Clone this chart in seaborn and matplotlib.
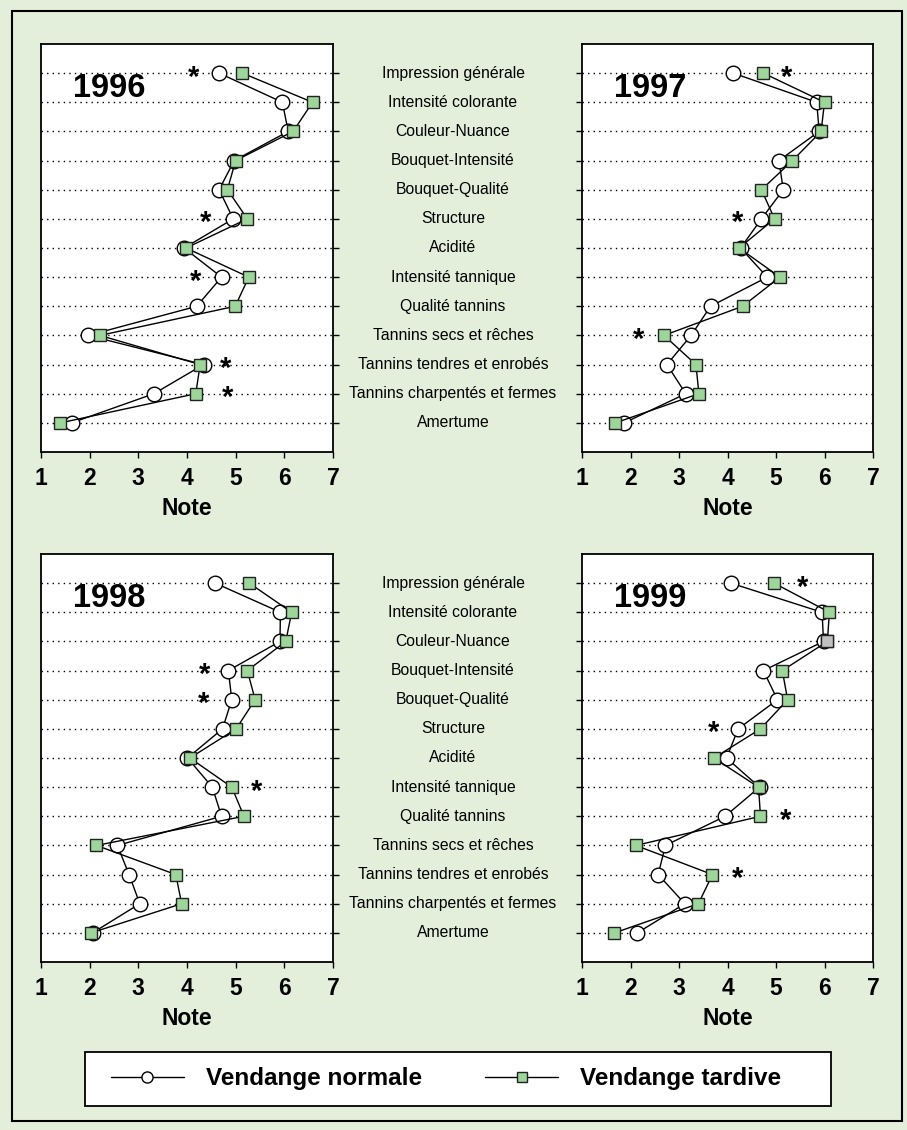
import numpy as np
import pandas as pd
import matplotlib
matplotlib.use('Agg')
import matplotlib.pyplot as plt
import matplotlib.transforms as mtransforms
from matplotlib.lines import Line2D
from matplotlib.patches import Rectangle
import seaborn as sns

## descriptors (top to bottom)
descripteurs = ['Impression générale', 'Intensité colorante', 'Couleur-Nuance',
                'Bouquet-Intensité', 'Bouquet-Qualité', 'Structure', 'Acidité',
                'Intensité tannique', 'Qualité tannins', 'Tannins secs et rêches',
                'Tannins tendres et enrobés', 'Tannins charpentés et fermes', 'Amertume']

annees = ['1996', '1997', '1998', '1999']

## mean scores
normale_1996 = [4.66, 5.96, 6.08, 4.97, 4.66, 4.95, 3.94, 4.71, 4.20, 1.97, 4.34, 3.32, 1.63]
tardive_1996 = [5.14, 6.58, 6.18, 5.00, 4.83, 5.24, 3.98, 5.27, 4.99, 2.21, 4.27, 4.18, 1.40]
normale_1997 = [4.12, 5.84, 5.89, 5.06, 5.15, 4.70, 4.27, 4.82, 3.65, 3.25, 2.75, 3.14, 1.87]
tardive_1997 = [4.74, 6.00, 5.93, 5.34, 4.70, 4.97, 4.24, 5.08, 4.31, 2.69, 3.35, 3.41, 1.69]
normale_1998 = [4.58, 5.92, 5.91, 4.85, 4.92, 4.73, 4.01, 4.52, 4.71, 2.57, 2.81, 3.03, 2.06]
tardive_1998 = [5.28, 6.15, 6.03, 5.24, 5.40, 5.01, 4.06, 4.92, 5.17, 2.14, 3.77, 3.89, 2.03]
normale_1999 = [4.07, 5.95, 5.98, 4.74, 5.03, 4.22, 3.98, 4.66, 3.95, 2.72, 2.57, 3.12, 2.14]
tardive_1999 = [4.96, 6.10, 6.06, 5.13, 5.24, 4.68, 3.72, 4.64, 4.68, 2.11, 3.69, 3.40, 1.67]

## significance stars: descriptor index and x position
etoiles_rang = {'1996': [0, 5, 7, 10, 11], '1997': [0, 5, 9],
                '1998': [3, 4, 7], '1999': [0, 5, 8, 10]}
etoiles_x = {'1996': [4.14, 4.39, 4.18, 4.80, 4.83], '1997': [5.22, 4.20, 2.16],
             '1998': [4.36, 4.33, 5.42], '1999': [5.55, 3.71, 5.19, 4.20]}

normale = {'1996': normale_1996, '1997': normale_1997, '1998': normale_1998, '1999': normale_1999}
tardive = {'1996': tardive_1996, '1997': tardive_1997, '1998': tardive_1998, '1999': tardive_1999}

## long table
rows = []
for an in annees:
    for i, d in enumerate(descripteurs):
        rows.append({'annee': an, 'rang': i, 'descripteur': d, 'vendange': 'Vendange normale', 'note': normale[an][i]})
    for i, d in enumerate(descripteurs):
        rows.append({'annee': an, 'rang': i, 'descripteur': d, 'vendange': 'Vendange tardive', 'note': tardive[an][i]})
df = pd.DataFrame(rows)

sns.set_style('white')
plt.rcParams['font.family'] = ['Liberation Sans', 'DejaVu Sans']
plt.rcParams['text.color'] = 'black'
plt.rcParams['axes.labelcolor'] = 'black'
plt.rcParams['xtick.color'] = 'black'
plt.rcParams['ytick.color'] = 'black'

fond = '#e3efdb'
vert = '#9dd59a'

W, H = 907, 1130
fig = plt.figure(figsize=(W / 100, H / 100), dpi=100, facecolor=fond)

## panel boxes in pixels: left, top, right, bottom
boites = {'1996': (41, 44, 333, 452), '1997': (582, 44, 873, 452),
          '1998': (41, 554, 333, 962), '1999': (582, 554, 873, 962)}

axes = {}
for an in annees:
    l, t, r, b = boites[an]
    ax = fig.add_axes([l / W, 1 - b / H, (r - l) / W, (b - t) / H])
    axes[an] = ax
    sub = df[df['annee'] == an]

    ## dotted guides
    ax.hlines(range(len(descripteurs)), 1, 7, colors='black', linestyles=(0, (1, 3)), lw=1, zorder=1)

    sns.lineplot(data=sub[sub['vendange'] == 'Vendange normale'], x='note', y='rang',
                 sort=False, estimator=None, color='black', lw=1, marker='o', ms=10.5,
                 mfc='white', mec='black', mew=1, ax=ax, zorder=3)
    sns.lineplot(data=sub[sub['vendange'] == 'Vendange tardive'], x='note', y='rang',
                 sort=False, estimator=None, color='black', lw=1, marker='s', ms=9,
                 mfc=vert, mec='#222222', mew=1, ax=ax, zorder=4)

    ## 1999: the Couleur-Nuance square is grey
    if an == '1999':
        ax.plot(tardive_1999[2], 2, marker='s', ms=9, mfc='#c0c0c0', mec='#222222', mew=1, zorder=5)

    for rg, xs in zip(etoiles_rang[an], etoiles_x[an]):
        ax.text(xs, rg + 0.15, '*', fontsize=21, fontweight='bold', ha='center', va='center', zorder=6)

    ax.text(0.11, 0.89, an, transform=ax.transAxes, fontsize=23.5, fontweight='bold',
            ha='left', va='center')

    ax.set_xlim(1, 7)
    ax.set_ylim(len(descripteurs), -1)
    ax.set_xticks(range(1, 8))
    ax.set_xticklabels([str(v) for v in range(1, 8)], fontsize=16.5, fontweight='bold')
    ax.set_yticks(range(len(descripteurs)))
    ax.set_yticklabels([])
    ax.set_xlabel('Note', fontsize=16.5, fontweight='bold', labelpad=5)
    ax.set_ylabel('')
    ax.set_facecolor('white')
    for s in ax.spines.values():
        s.set_linewidth(1.3)
        s.set_color('black')
    cote_droit = an in ('1996', '1998')
    ax.tick_params(axis='x', direction='out', length=4, width=1, pad=7, bottom=True)
    ax.tick_params(axis='y', direction='out', length=4, width=1,
                   left=not cote_droit, right=cote_droit, labelleft=False, labelright=False)

## descriptor names in the middle column
for an in ('1996', '1998'):
    trans = mtransforms.blended_transform_factory(fig.transFigure, axes[an].transData)
    for i, d in enumerate(descripteurs):
        fig.text(453 / W, i, d, transform=trans, fontsize=11.3, ha='center', va='center')

## legend box and legend
fig.patches.append(Rectangle((85 / W, 1 - 1106 / H), (831 - 85) / W, (1106 - 1052) / H,
                             transform=fig.transFigure, facecolor='white', edgecolor='black', lw=1.3))
poignees = [Line2D([], [], color='black', lw=1, marker='o', ms=8, mfc='white', mec='black'),
            Line2D([], [], color='black', lw=1, marker='s', ms=7, mfc=vert, mec='#222222')]
leg = fig.legend(poignees, ['Vendange normale', 'Vendange tardive'], loc='center',
                 bbox_to_anchor=(446 / W, 1 - 1079 / H), ncol=2, frameon=False,
                 handlelength=3, handletextpad=0.9, columnspacing=2.6,
                 prop={'weight': 'bold', 'size': 17.5})

## outer frame
fig.patches.append(Rectangle((12 / W, 1 - 1121 / H), 890 / W, 1110 / H, transform=fig.transFigure,
                             fill=False, edgecolor='black', lw=1.5))

fig.savefig('out.png', dpi=100, facecolor=fond)
